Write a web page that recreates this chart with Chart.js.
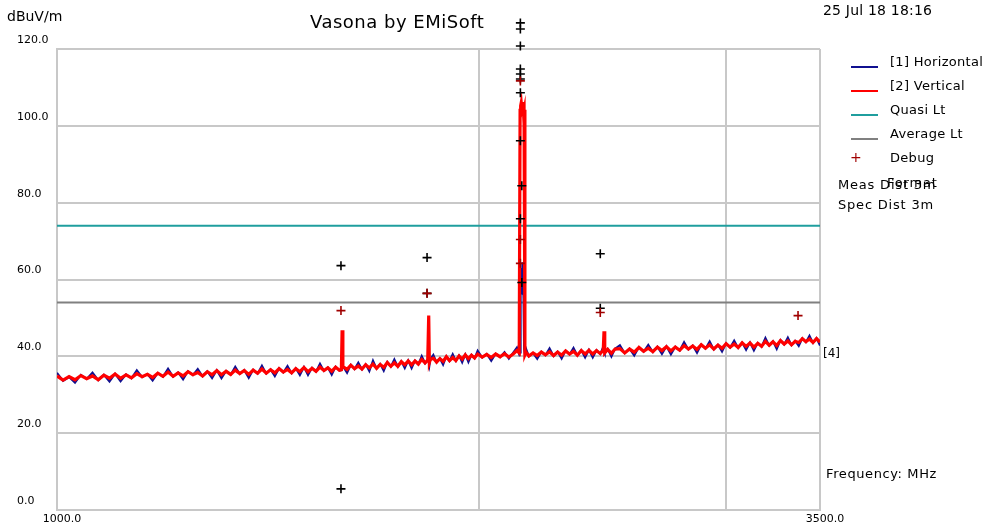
<!DOCTYPE html>
<html><head><meta charset="utf-8">
<script src="https://cdn.jsdelivr.net/npm/chart.js@4.4.1/dist/chart.umd.min.js"></script>
<style>
html,body{margin:0;padding:0;background:#fff;}
#wrap{position:relative;width:984px;height:529px;overflow:hidden;font-family:'DejaVu Sans',sans-serif;color:#000;}
#c{position:absolute;left:0;top:0;}
.t{position:absolute;white-space:nowrap;line-height:1;}
.sw{position:absolute;height:2px;width:27px;}
</style></head><body>
<div id="wrap">
<canvas id="c" width="984" height="529"></canvas>
<div class="t" style="left:7px;top:9px;font-size:14px;">dBuV/m</div>
<div class="t" style="left:310px;top:13px;font-size:18px;letter-spacing:0.5px;">Vasona by EMiSoft</div>
<div class="t" style="left:823px;top:3px;font-size:14px;letter-spacing:0.2px;">25 Jul 18 18:16</div>
<div class="sw" style="left:851px;top:66px;background:#101090;"></div>
<div class="t" style="left:890px;top:55px;font-size:13px;letter-spacing:0.3px;">[1] Horizontal</div>
<div class="sw" style="left:851px;top:90px;background:#ff0000;"></div>
<div class="t" style="left:890px;top:79px;font-size:13px;letter-spacing:0.3px;">[2] Vertical</div>
<div class="sw" style="left:851px;top:114px;background:#1f9e9e;"></div>
<div class="t" style="left:890px;top:103px;font-size:13px;letter-spacing:0.3px;">Quasi Lt</div>
<div class="sw" style="left:851px;top:138px;background:#808080;"></div>
<div class="t" style="left:890px;top:127px;font-size:13px;letter-spacing:0.3px;">Average Lt</div>
<div class="t" style="left:850px;top:150px;font-size:14px;color:#a00000;">+</div>
<div class="t" style="left:890px;top:151px;font-size:13px;letter-spacing:0.3px;">Debug</div>
<div class="t" style="left:887px;top:176px;font-size:13px;letter-spacing:0.8px;">Format</div>
<div class="t" style="left:838px;top:178px;font-size:13px;letter-spacing:0.8px;">Meas Dist 3m</div>
<div class="t" style="left:838px;top:198px;font-size:13px;letter-spacing:0.8px;">Spec Dist 3m</div>
<div class="t" style="left:823px;top:347px;font-size:12px;">[4]</div>
<div class="t" style="left:826px;top:467px;font-size:13px;letter-spacing:0.6px;">Frequency: MHz</div>
</div>
<script>
// Frequency points (MHz), rows of 10
const freqMHz = [
 1000,1010,1020,1030,1040,1050,1060,1070,1080,1090,
 1100,1110,1120,1130,1140,1150,1160,1170,1180,1190,
 1200,1210,1220,1230,1240,1250,1260,1270,1280,1290,
 1300,1310,1320,1330,1340,1350,1360,1370,1380,1390,
 1400,1410,1420,1430,1440,1450,1460,1470,1480,1490,
 1500,1510,1520,1530,1540,1550,1560,1570,1580,1590,
 1595,1597,1599,1610,1620,1630,1640,1650,1660,1670,
 1680,1690,1700,1710,1720,1730,1740,1750,1760,1770,
 1780,1790,1800,1810,1820,1830,1838,1841,1843,1846,
 1855,1865,1875,1885,1895,1905,1915,1925,1935,1945,
 1955,1965,1975,1985,1995,2010,2025,2040,2055,2070,
 2085,2100,2115,2128,2136,2139,2141,2143,2145,2147,
 2149,2151,2153,2156,2160,2170,2185,2200,2215,2230,
 2245,2260,2275,2290,2305,2320,2335,2350,2365,2380,
 2395,2410,2425,2440,2452,2455,2458,2470,2485,2500,
 2520,2540,2560,2580,2600,2620,2640,2660,2680,2700,
 2720,2740,2760,2780,2800,2820,2840,2860,2880,2900,
 2920,2940,2960,2980,3000,3020,3040,3060,3080,3100,
 3120,3140,3160,3180,3200,3220,3240,3260,3280,3300,
 3320,3340,3360,3380,3400,3420,3440,3460,3480,3500
];
// [2] Vertical trace (dBuV/m)
const verticalDb = [
 34.9,33.8,34.7,33.9,35.0,34.2,34.9,33.9,35.1,34.3,
 35.4,34.3,35.2,34.4,35.5,34.7,35.3,34.5,35.6,34.8,
 35.9,34.8,35.7,34.9,36.0,35.2,35.8,34.9,36.0,35.2,
 36.3,35.2,36.1,35.3,36.4,35.5,36.3,35.3,36.4,35.6,
 36.7,35.6,36.5,35.7,36.8,35.9,36.6,35.7,36.8,36.0,
 37.1,36.0,36.9,36.1,37.2,36.3,37.0,36.1,37.2,36.4,
 36.5,46.8,37.3,36.6,37.7,36.8,37.5,36.7,37.8,37.0,
 38.0,36.9,37.9,37.1,38.4,37.4,38.3,37.4,38.6,37.8,
 38.8,37.8,38.8,38.0,39.2,38.3,39.0,50.6,38.4,39.2,
 39.5,38.5,39.4,38.7,39.9,38.9,39.7,38.9,40.1,39.3,
 40.4,39.4,40.3,39.6,40.6,39.8,40.5,39.7,40.6,39.9,
 40.7,39.8,40.6,41.5,40.9,104.0,105.2,106.0,104.3,105.0,
 106.2,103.5,104.2,40.4,41.1,40.1,40.9,40.2,41.1,40.4,
 41.2,40.2,41.1,40.3,41.4,40.6,41.3,40.3,41.5,40.6,
 41.6,40.6,41.5,40.7,41.6,46.5,40.9,41.8,40.8,41.9,
 42.0,40.9,41.9,41.1,42.3,41.3,42.1,41.2,42.4,41.5,
 42.5,41.4,42.4,41.6,42.8,41.9,42.7,41.8,43.0,42.1,
 43.0,41.9,42.9,42.1,43.3,42.4,43.2,42.3,43.5,42.6,
 43.5,42.4,43.4,42.6,43.9,42.9,43.8,42.8,44.1,43.2,
 44.0,43.0,43.9,43.6,44.6,43.8,44.5,43.6,44.6,43.7
];
// [1] Horizontal trace (dBuV/m)
const horizontalDb = [
 35.7,33.6,34.6,33.1,35.2,34.1,35.8,33.8,35.2,33.4,
 35.5,33.5,35.3,34.3,36.4,34.6,35.4,33.7,35.7,34.7,
 36.8,34.7,35.8,34.0,36.1,35.1,36.7,34.8,36.1,34.3,
 36.4,34.3,36.2,35.2,37.3,35.4,36.4,34.4,36.5,35.5,
 37.6,35.5,36.6,34.8,36.9,35.8,37.5,35.6,36.9,35.1,
 37.2,35.1,37.0,36.0,38.1,36.2,37.1,35.2,37.3,36.3,
 36.4,37.1,37.4,35.7,37.8,36.7,38.4,36.6,37.9,36.1,
 38.9,36.8,38.0,36.2,38.5,37.3,39.2,37.3,38.7,36.9,
 38.9,36.9,38.9,37.9,40.1,38.2,39.1,38.5,37.5,39.3,
 40.4,38.4,39.5,37.8,40.0,38.8,40.6,38.8,40.2,38.4,
 40.5,38.5,40.4,39.5,41.5,39.7,40.6,38.8,40.7,39.8,
 41.1,39.4,41.0,42.3,40.5,41.0,58.0,63.0,56.0,64.5,
 60.0,55.0,42.0,40.3,42.0,40.0,40.8,39.3,41.2,40.3,
 42.1,40.1,41.2,39.4,41.5,40.5,42.2,40.2,41.6,39.7,
 41.7,39.7,41.6,40.6,42.5,41.3,40.8,41.9,39.9,42.0,
 42.9,40.8,42.0,40.2,42.4,41.2,43.0,41.1,42.5,40.6,
 42.6,40.5,42.5,41.5,43.7,41.8,42.8,40.9,43.1,42.0,
 43.9,41.8,43.0,41.2,43.4,42.3,44.1,42.2,43.6,41.7,
 43.6,41.5,43.5,42.5,44.8,42.8,43.9,41.9,44.2,43.1,
 44.9,42.9,44.0,42.7,44.7,43.7,45.4,43.5,44.7,42.8
];
// Limit lines
const limitFreq = [1000, 3500];
const quasiLimitDb = [74, 74];
const averageLimitDb = [54, 54];
// Debug markers (dark red)
const debugFreq = [1594, 1836, 2140, 2140, 2140, 2440, 3376];
const debugDb   = [51.9, 56.4, 111.7, 70.4, 64.2, 51.4, 50.6];
// Peak markers (black)
const peakFreq = [1594, 1594, 1836, 1836, 2140, 2140, 2140, 2140, 2140, 2140, 2140, 2140, 2145, 2140, 2145, 2440, 2440];
const peakDb   = [63.6, 5.5, 65.7, 56.4, 126.8, 125.2, 120.8, 114.8, 113.5, 112.2, 108.6, 96.1, 84.4, 75.8, 59.2, 66.7, 52.5];
// Axis ticks
const xTickValues = [1000, 2000, 3000, 3500];
const xTickLabels = ['1000.0', '', '', '3500.0'];
const yTickValues = [0, 20, 40, 60, 80, 100, 120];

const pts = (xs, ys) => xs.map((x, i) => ({x: x, y: ys[i]}));

// Markers that lie above the plot area (Chart.js skips them) are drawn at the scale-computed positions
const outsideMarkers = {
  id: 'outsideMarkers',
  afterDatasetsDraw(chart) {
    const ctx = chart.ctx, area = chart.chartArea;
    chart.data.datasets.forEach((ds, i) => {
      if (ds.showLine !== false) return;
      const r = ds.pointRadius, bw = ds.pointBorderWidth;
      const margin = r + bw / 2;
      chart.getDatasetMeta(i).data.forEach(p => {
        if (p.y < area.top - margin) {
          ctx.save();
          ctx.strokeStyle = ds.borderColor; ctx.lineWidth = bw;
          ctx.beginPath();
          ctx.moveTo(p.x - r, p.y); ctx.lineTo(p.x + r, p.y);
          ctx.moveTo(p.x, p.y - r); ctx.lineTo(p.x, p.y + r);
          ctx.stroke();
          ctx.restore();
        }
      });
    });
  }
};

Chart.defaults.font.family = "'DejaVu Sans', sans-serif";
Chart.defaults.color = '#000';

new Chart(document.getElementById('c').getContext('2d'), {
  type: 'line',
  data: {
    datasets: [
      {label: 'Debug', data: pts(debugFreq, debugDb), showLine: false, pointStyle: 'cross',
       pointRadius: 4.5, pointBorderWidth: 1.6, borderColor: '#a00000', backgroundColor: '#a00000', order: 0, clip: false},
      {label: 'Peaks', data: pts(peakFreq, peakDb), showLine: false, pointStyle: 'cross',
       pointRadius: 4.5, pointBorderWidth: 1.6, borderColor: '#000', backgroundColor: '#000', order: 0, clip: false},
      {label: '[2] Vertical', data: pts(freqMHz, verticalDb), borderColor: '#ff0000', borderWidth: 3.2,
       pointRadius: 0, tension: 0, order: 1},
      {label: '[1] Horizontal', data: pts(freqMHz, horizontalDb), borderColor: '#101090', borderWidth: 2,
       pointRadius: 0, tension: 0, order: 2},
      {label: 'Quasi Lt', data: pts(limitFreq, quasiLimitDb), borderColor: '#1f9e9e', borderWidth: 2,
       pointRadius: 0, order: 3},
      {label: 'Average Lt', data: pts(limitFreq, averageLimitDb), borderColor: '#808080', borderWidth: 2,
       pointRadius: 0, order: 3}
    ]
  },
  options: {
    responsive: false, animation: false, devicePixelRatio: 1,
    layout: {padding: {left: 17, top: 49, right: 164, bottom: 0}},
    plugins: {legend: {display: false}, tooltip: {enabled: false}, title: {display: false}},
    scales: {
      x: {
        type: 'logarithmic', min: 1000, max: 3500,
        afterBuildTicks: s => { s.ticks = xTickValues.map(v => ({value: v})); },
        afterFit: s => { s.height = 19; },
        grid: {color: '#c8c8c8', lineWidth: 2, drawTicks: false},
        border: {color: '#c8c8c8', width: 2},
        ticks: {autoSkip: false, maxRotation: 0, minRotation: 0, padding: 3, labelOffset: 5,
                font: {size: 11}, color: '#000',
                callback: (v, i) => xTickLabels[i]}
      },
      y: {
        min: 0, max: 120,
        afterBuildTicks: s => { s.ticks = yTickValues.map(v => ({value: v})); },
        afterFit: s => { s.width = 40; },
        grid: {color: '#c8c8c8', lineWidth: 2, drawTicks: false},
        border: {color: '#c8c8c8', width: 2},
        ticks: {crossAlign: 'far', labelOffset: -9, padding: 0, font: {size: 11}, color: '#000',
                callback: v => Number(v).toFixed(1)}
      }
    }
  },
  plugins: [outsideMarkers]
});
</script>
</body></html>
